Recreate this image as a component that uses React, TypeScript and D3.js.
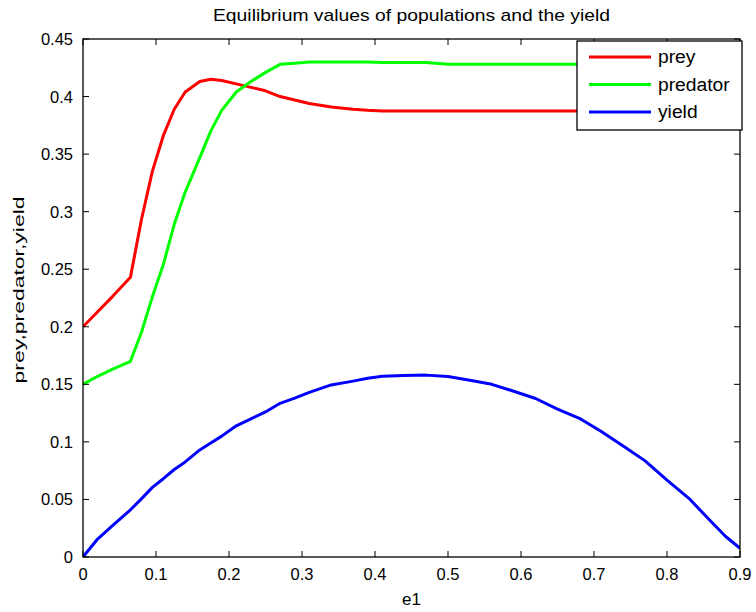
import React from "react";
import * as d3 from "d3";

const e1 = [0, 0.02, 0.04, 0.065, 0.08, 0.095, 0.11, 0.125, 0.14, 0.16, 0.175, 0.19, 0.21, 0.23, 0.25, 0.27, 0.29, 0.31, 0.34, 0.37, 0.39, 0.41, 0.44, 0.47, 0.5, 0.53, 0.56, 0.59, 0.62, 0.65, 0.68, 0.71, 0.74, 0.77, 0.8, 0.83, 0.86, 0.88, 0.9];
const prey = [0.2, 0.213, 0.226, 0.243, 0.293, 0.335, 0.366, 0.389, 0.404, 0.413, 0.415, 0.414, 0.411, 0.408, 0.405, 0.4, 0.397, 0.394, 0.391, 0.389, 0.388, 0.3875, 0.3875, 0.3875, 0.3875, 0.3875, 0.3875, 0.3875, 0.3875, 0.3875, 0.3875, 0.3875, 0.3875, 0.3875, 0.3875, 0.3875, 0.3875, 0.3875, 0.3875];
const predator = [0.15, 0.157, 0.163, 0.17, 0.195, 0.226, 0.254, 0.289, 0.317, 0.347, 0.37, 0.388, 0.404, 0.413, 0.421, 0.428, 0.429, 0.43, 0.43, 0.43, 0.43, 0.4295, 0.4295, 0.4295, 0.428, 0.428, 0.428, 0.428, 0.428, 0.428, 0.428, 0.428, 0.428, 0.428, 0.428, 0.428, 0.428, 0.428, 0.428];
const yieldV = [0, 0.0156, 0.027, 0.041, 0.0505, 0.0605, 0.068, 0.076, 0.0826, 0.093, 0.099, 0.105, 0.114, 0.12, 0.126, 0.1335, 0.138, 0.143, 0.1495, 0.1528, 0.1552, 0.157, 0.1577, 0.158, 0.1568, 0.1535, 0.15, 0.144, 0.1377, 0.1285, 0.1205, 0.109, 0.0965, 0.0835, 0.0668, 0.051, 0.031, 0.018, 0.0076];

const xTicks = [0, 0.1, 0.2, 0.3, 0.4, 0.5, 0.6, 0.7, 0.8, 0.9];
const yTicks = [0, 0.05, 0.1, 0.15, 0.2, 0.25, 0.3, 0.35, 0.4, 0.45];
const seriesNames = ["prey", "predator", "yield"];
const seriesColors = ["#ff0000", "#00ff00", "#0000ff"];
const titleText = "Equilibrium values of populations and the yield";
const xLabel = "e1";
const yLabel = "prey,predator,yield";

export default function App() {
  const W = 756, H = 612;
  const L = 83, R = 740, T = 39, B = 557;
  const x = d3.scaleLinear().domain([0, 0.9]).range([L, R]);
  const y = d3.scaleLinear().domain([0, 0.45]).range([B, T]);
  const series = [prey, predator, yieldV];
  const line = d3.line<number>().x((_, i) => x(e1[i])).y((v) => y(v));
  const font = "'Liberation Sans', Arial, Helvetica, sans-serif";
  const tl = 6;
  const fmt = (v: number) => (v === 0 ? "0" : String(+v.toFixed(2)));
  const legX = 577, legY = 41, legW = 165, legH = 89;
  return (
    <svg width={W} height={H} style={{ position: "absolute", left: 0, top: 0, background: "#fff" }} fontFamily={font} fill="#000">
      <rect x={0} y={0} width={W} height={H} fill="#fff" />
      <defs>
        <clipPath id="plot">
          <rect x={L} y={T} width={R - L} height={B - T} />
        </clipPath>
      </defs>
      <g clipPath="url(#plot)">
        {series.map((s, i) => (
          <path key={i} d={line(s) || ""} fill="none" stroke={seriesColors[i]} strokeWidth={3} strokeLinejoin="round" />
        ))}
      </g>
      <rect x={L} y={T} width={R - L} height={B - T} fill="none" stroke="#000" strokeWidth={1.3} />
      {xTicks.map((t) => (
        <g key={"x" + t}>
          <line x1={x(t)} x2={x(t)} y1={B} y2={B - tl} stroke="#000" />
          <line x1={x(t)} x2={x(t)} y1={T} y2={T + tl} stroke="#000" />
          <text x={x(t)} y={B + 23} fontSize={16.5} textAnchor="middle">{fmt(t)}</text>
        </g>
      ))}
      {yTicks.map((t) => (
        <g key={"y" + t}>
          <line x1={L} x2={L + tl} y1={y(t)} y2={y(t)} stroke="#000" />
          <line x1={R} x2={R - tl} y1={y(t)} y2={y(t)} stroke="#000" />
          <text x={L - 10} y={y(t) + 6} fontSize={16.5} textAnchor="end">{fmt(t)}</text>
        </g>
      ))}
      <text x={(L + R) / 2} y={21} fontSize={17} textAnchor="middle" textLength={397} lengthAdjust="spacingAndGlyphs">{titleText}</text>
      <text x={(L + R) / 2} y={605} fontSize={17} textAnchor="middle">{xLabel}</text>
      <text transform={`translate(24,${290}) rotate(-90)`} fontSize={15.5} textAnchor="middle" textLength={187} lengthAdjust="spacingAndGlyphs">{yLabel}</text>
      <rect x={legX} y={legY} width={legW} height={legH} fill="#fff" stroke="#000" strokeWidth={1.3} />
      {seriesNames.map((n, i) => (
        <g key={n}>
          <line x1={legX + 12} x2={legX + 74} y1={legY + 16 + i * 27.5} y2={legY + 16 + i * 27.5} stroke={seriesColors[i]} strokeWidth={3} />
          <text transform={`translate(${legX + 81},${legY + 22 + i * 27.5}) scale(1.07,1)`} fontSize={18}>{n}</text>
        </g>
      ))}
    </svg>
  );
}
